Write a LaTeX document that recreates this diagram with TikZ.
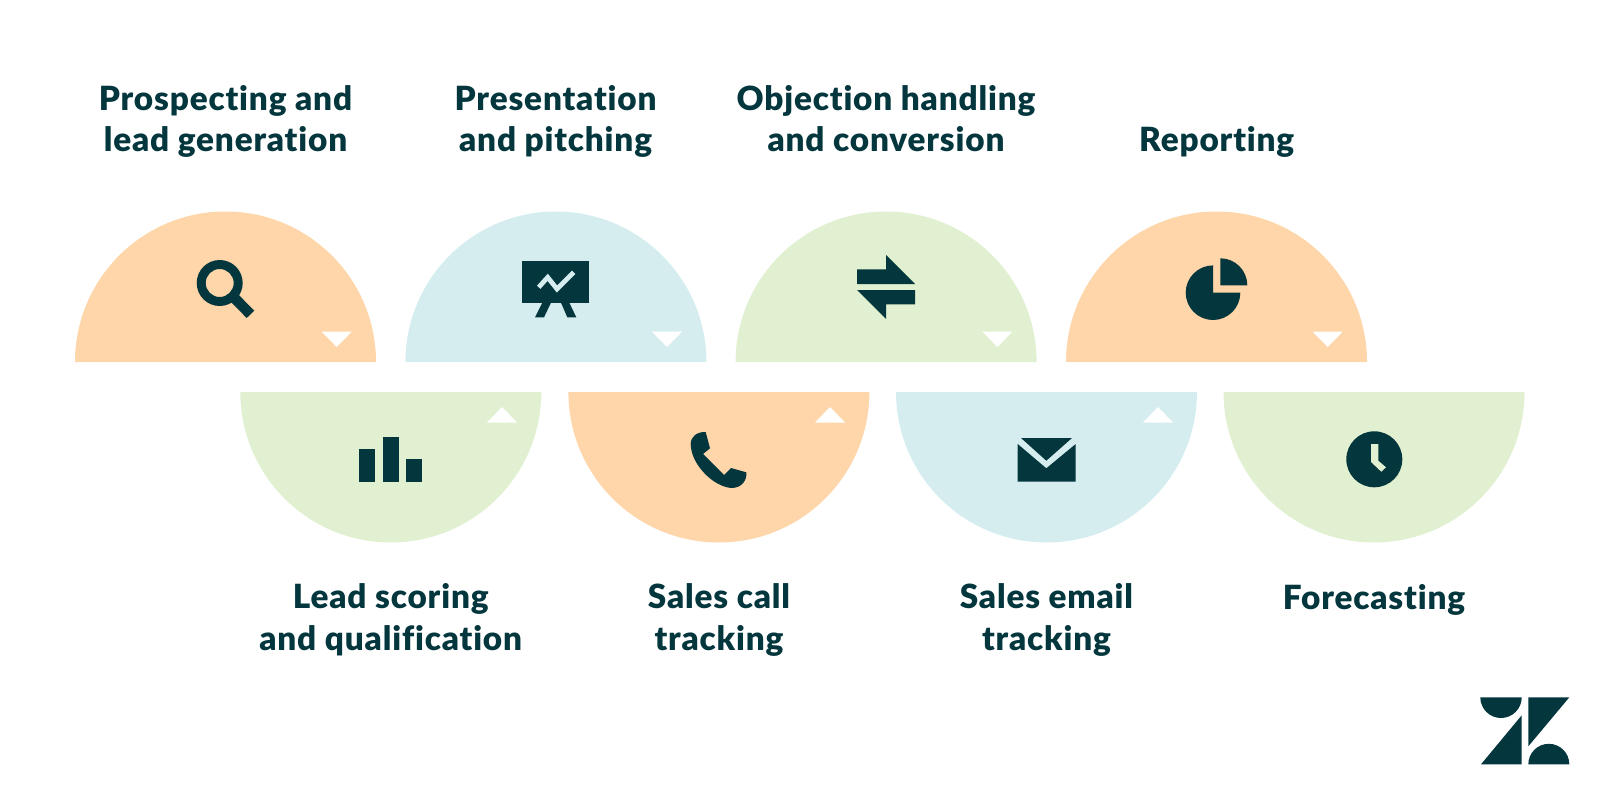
\documentclass[tikz,border=0pt]{standalone}
\usepackage{fontspec}
\setmainfont{Lato}[BoldFont={Lato Black},LetterSpace=2.5,Ligatures=NoCommon]
\definecolor{peach}{HTML}{FED6A9}
\definecolor{paleblue}{HTML}{D6EDEF}
\definecolor{palegreen}{HTML}{E1F0D1}
\definecolor{inkteal}{HTML}{03363D}
\tikzset{
  stage/.style={inner sep=0pt,align=center,anchor=base,text=inkteal,font=\fontsize{9.47}{11.67}\selectfont\bfseries},
  ink/.style={fill=inkteal,draw=none},
  notch/.style={fill=white,draw=none}
}

\begin{document}
\begin{tikzpicture}[x=0.01cm,y=-0.01cm]
\useasboundingbox (0,0) rectangle (1600,800);
% upper row of half discs
\fill[peach] (75,362) arc[start angle=180,end angle=360,radius=150.5] -- cycle;
\fill[paleblue] (405.4,362) arc[start angle=180,end angle=360,radius=150.5] -- cycle;
\fill[palegreen] (735.6,362) arc[start angle=180,end angle=360,radius=150.5] -- cycle;
\fill[peach] (1066,362) arc[start angle=180,end angle=360,radius=150.5] -- cycle;
% lower row of half discs
\fill[palegreen] (240.3,392) arc[start angle=180,end angle=0,radius=150.5] -- cycle;
\fill[peach] (568.4,392) arc[start angle=180,end angle=0,radius=150.5] -- cycle;
\fill[paleblue] (896,392) arc[start angle=180,end angle=0,radius=150.5] -- cycle;
\fill[palegreen] (1223.5,392) arc[start angle=180,end angle=0,radius=150.5] -- cycle;
% small white triangles
\fill[notch] (321.7,331.7) -- (351.7,331.7) -- (336.7,347) -- cycle;
\fill[notch] (652,331.7) -- (682,331.7) -- (667,347) -- cycle;
\fill[notch] (982.4,331.7) -- (1012.4,331.7) -- (997.4,347) -- cycle;
\fill[notch] (1312.7,331.7) -- (1342.7,331.7) -- (1327.7,347) -- cycle;
\fill[notch] (487,422.5) -- (517,422.5) -- (502,407) -- cycle;
\fill[notch] (815,422.5) -- (845,422.5) -- (830,407) -- cycle;
\fill[notch] (1143,422.5) -- (1173,422.5) -- (1158,407) -- cycle;
% magnifier
\fill[ink,even odd rule] (219.7,283) circle (23) (219.7,283) circle (14);
\fill[ink] (233.3,289.4) -- (254.3,310.7) -- (246.7,318) -- (225.7,296.7) -- cycle;
% presentation board
\fill[ink] (522.3,261) rectangle (589.3,302.7);
\draw[paleblue,line width=0.047cm] (538.7,287.3) -- (547.7,277.3) -- (557,289) -- (573.7,272.3);
\fill[ink] (542.3,302.7) -- (551,302.7) -- (544,317.3) -- (535,317.3) -- cycle;
\fill[ink] (561,302.7) -- (569.3,302.7) -- (576.3,317.3) -- (567.3,317.3) -- cycle;
% exchange arrows
\fill[ink] (857,269.3) -- (886,269.3) -- (886,255) -- (915,284) -- (857,284) -- cycle;
\fill[ink] (857,290) -- (915,290) -- (915,304.3) -- (886,304.3) -- (886,319) -- cycle;
% pie chart
\fill[ink] (1213,292.7) -- (1213,265.4) arc[start angle=270,end angle=0,radius=27.3] -- cycle;
\fill[ink] (1220.3,285.3) -- (1220.3,258.3) arc[start angle=270,end angle=360,radius=27] -- cycle;
% bar chart
\fill[ink] (359.3,449) rectangle (375.3,482);
\fill[ink] (382.7,437.3) rectangle (398.7,482);
\fill[ink] (405.7,459) rectangle (421.7,482);
% telephone
\fill[ink] (705.7,432) -- (710,448.3) -- (703,454) -- (724,475) -- (731,468) -- (746.3,472.3)
  .. controls (747.3,480) and (741.7,488) .. (731.7,488)
  .. controls (713.3,487) and (690.7,464) .. (690.7,444)
  .. controls (690.7,436.7) and (696.7,431.7) .. (705.7,432) -- cycle;
% envelope
\fill[ink] (1021,438) -- (1072,438) -- (1046.3,460.7) -- cycle;
\fill[ink] (1017.7,444) -- (1046.3,468.3) -- (1075.7,444) -- (1075.7,481.7) -- (1017.7,481.7) -- cycle;
% clock
\fill[ink] (1374.3,459.3) circle (28);
\fill[palegreen] (1371,444) -- (1378.3,444) -- (1378.3,460.7) -- (1386,467.3) -- (1381.3,471.7) -- (1371,462) -- cycle;
% logo
\fill[ink] (1480.3,697.3) arc[start angle=180,end angle=0,radius=20.7] -- cycle;
\fill[ink] (1521.7,715.3) -- (1521.7,764.3) -- (1481,764.3) -- cycle;
\fill[ink] (1528.3,697.3) -- (1569.3,697.3) -- (1528.3,746.3) -- cycle;
\fill[ink] (1528.3,764.3) arc[start angle=180,end angle=360,radius=20.5] -- cycle;
% captions
\node[stage] (prospecting) at (225.5,151.5) {Prospecting and\\lead generation};
\node[stage] (presentation) at (555.6,151.5) {Presentation\\and pitching};
\node[stage] (objection) at (886,151.5) {Objection handling\\and conversion};
\node[stage] (reporting) at (1216.7,151.5) {Reporting};
\node[stage] (scoring) at (390.7,650) {Lead scoring\\and qualification};
\node[stage] (calls) at (719,650) {Sales call\\tracking};
\node[stage] (emails) at (1046.5,650) {Sales email\\tracking};
\node[stage] (forecasting) at (1374,609) {Forecasting};
\end{tikzpicture}
\end{document}
